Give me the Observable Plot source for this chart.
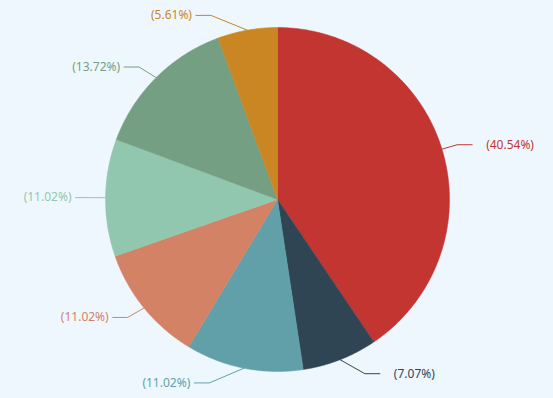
<!DOCTYPE html>
<html><head><meta charset="utf-8">
<script src="https://cdn.jsdelivr.net/npm/d3@7"></script>
<script src="https://cdn.jsdelivr.net/npm/@observablehq/plot@0.6"></script>
<style>html,body{margin:0;padding:0;background:#eff7fe;overflow:hidden;}</style>
</head><body><div id="chart"></div>
<script>
const categories = ["A", "B", "C", "D", "E", "F", "G"];
const percents = [40.54, 7.07, 11.02, 11.02, 11.02, 13.72, 5.61];
const palette = ["#c23531", "#2f4554", "#61a0a8", "#d48265", "#91c7ae", "#749f83", "#ca8622"];

const W = 553, H = 398, cx = 277, cy = 199, R = 172, L1 = 15, L2 = 15, RB = 197;
const total = d3.sum(percents);
let acc = 0;
const slices = categories.map((name, i) => {
  const a0 = acc / total * 2 * Math.PI; acc += percents[i];
  const a1 = acc / total * 2 * Math.PI;
  return {name, value: percents[i], a0, a1, mid: (a0 + a1) / 2};
});

const polyPts = [];
for (const s of slices) {
  polyPts.push({name: s.name, x: cx, y: cy});
  const n = Math.max(2, Math.ceil((s.a1 - s.a0) / (Math.PI / 360)));
  for (let k = 0; k <= n; k++) {
    const a = s.a0 + (s.a1 - s.a0) * k / n;
    polyPts.push({name: s.name, x: cx + R * Math.sin(a), y: cy - R * Math.cos(a)});
  }
  polyPts.push({name: s.name, x: cx, y: cy});
}

const leaders = [], labels = [];
for (const s of slices) {
  const sn = Math.sin(s.mid), cs = Math.cos(s.mid);
  const dir = sn >= 0 ? 1 : -1;
  const ex = cx + R * sn, ey = cy - R * cs;
  const ky = cy - (R + L1) * cs;
  const dy = ky - cy;
  const kx = cx + dir * (R + L1) * Math.sqrt(Math.max(0, 1 - (dy / RB) ** 2));
  const endx = kx + dir * L2;
  leaders.push({name: s.name, x: ex, y: ey}, {name: s.name, x: kx, y: ky}, {name: s.name, x: endx, y: ky});
  labels.push({name: s.name, side: dir, x: endx + (dir > 0 ? 14 : -4), y: ky, text: `(${s.value.toFixed(2)}%)`});
}

const chart = Plot.plot({
  width: W, height: H, margin: 0,
  x: {domain: [0, W], range: [0, W], axis: null},
  y: {domain: [0, H], range: [0, H], axis: null},
  color: {domain: categories, range: palette},
  style: {background: "#eff7fe", fontFamily: "'Noto Sans', sans-serif", overflow: "visible"},
  marks: [
    Plot.line(polyPts, {x: "x", y: "y", z: "name", fill: "name", stroke: "name", strokeWidth: 0.5}),
    Plot.line(leaders, {x: "x", y: "y", z: "name", stroke: "name", strokeWidth: 1}),
    Plot.text(labels.filter(d => d.side > 0), {x: "x", y: "y", text: "text", fill: "name", textAnchor: "start", fontSize: 12}),
    Plot.text(labels.filter(d => d.side < 0), {x: "x", y: "y", text: "text", fill: "name", textAnchor: "end", fontSize: 12})
  ]
});
document.getElementById("chart").appendChild(chart);
</script>
</body></html>
